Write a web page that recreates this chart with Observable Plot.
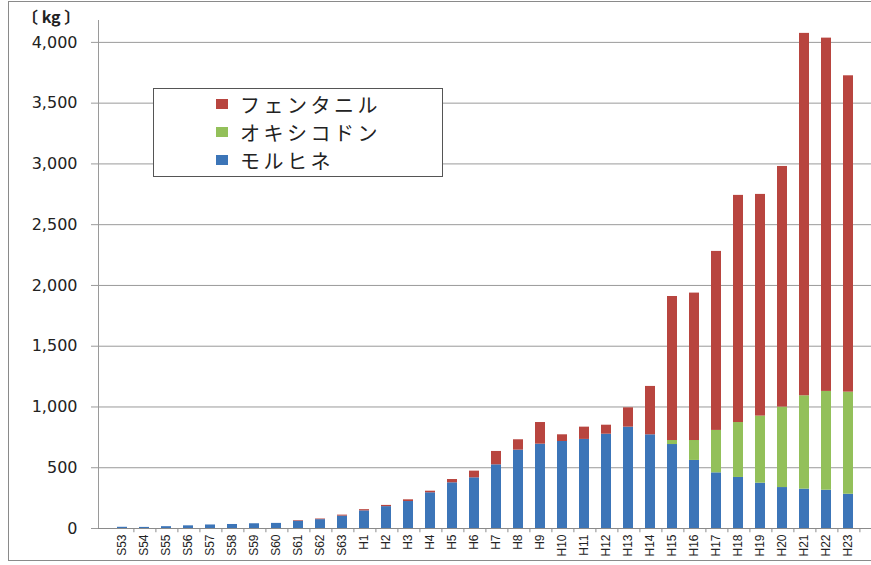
<!DOCTYPE html>
<html>
<head>
<meta charset="utf-8">
<script src="https://cdn.jsdelivr.net/npm/d3@7"></script>
<script src="https://cdn.jsdelivr.net/npm/@observablehq/plot@0.6"></script>
<style>
  html, body { margin: 0; padding: 0; background: #fff; }
  #wrap { position: relative; width: 871px; height: 565px; overflow: hidden; }
  #frame { position: absolute; left: 8px; top: 1px; width: 900px; height: 560px; border: 1px solid #8a8a8a; box-sizing: border-box; }
  #chart { position: absolute; left: 0; top: 0; }
  #unit { position: absolute; left: 22px; top: 4px; font-family: "Noto Sans CJK JP", sans-serif; font-weight: bold; font-size: 16px; color: #222; letter-spacing: 0px; white-space: pre; }
  #legend { position: absolute; left: 153px; top: 88px; width: 290px; height: 89px; box-sizing: border-box; border: 1.5px solid #555; background: #fff; }
  .item { position: absolute; left: 62px; height: 24px; display: flex; align-items: center; font-family: "Noto Sans CJK JP", sans-serif; font-size: 20px; letter-spacing: 3.5px; color: #222; }
  .sw { width: 12px; height: 10px; margin-right: 12px; }
</style>
</head>
<body>
<div id="wrap">
  <div id="frame"></div>
  <div id="chart"></div>
  <div id="unit">〔 kg 〕</div>
  <div id="legend"></div>
</div>
<script>
const years = ["S53","S54","S55","S56","S57","S58","S59","S60","S61","S62","S63",
  "H1","H2","H3","H4","H5","H6","H7","H8","H9","H10","H11","H12","H13","H14","H15",
  "H16","H17","H18","H19","H20","H21","H22","H23"];
const seriesNames = ["モルヒネ", "オキシコドン", "フェンタニル"];
const seriesColors = ["#3c75b8", "#93c05a", "#b8453f"];
const morphine = [10, 9, 15, 22, 29, 33, 39, 42, 60, 73, 102,
  145, 180, 222, 294, 376, 417, 524, 645, 694, 716, 733, 776, 834, 771, 691,
  560, 458, 420, 373, 337, 324, 315, 282];
const oxycodone = [0, 0, 0, 0, 0, 0, 0, 0, 0, 0, 0,
  0, 0, 0, 0, 0, 0, 0, 0, 0, 0, 0, 0, 0, 0, 33,
  164, 349, 452, 552, 662, 768, 813, 840];
const fentanyl = [0, 0, 0, 0, 0, 0, 0, 0, 5, 5, 8,
  10, 10, 14, 13, 27, 55, 110, 85, 178, 55, 101, 74, 159, 398, 1185,
  1213, 1473, 1869, 1824, 1980, 2982, 2907, 2603];
const yTicks = [0, 500, 1000, 1500, 2000, 2500, 3000, 3500, 4000];

const seriesValues = [morphine, oxycodone, fentanyl];
const data = [];
years.forEach((yr, i) => {
  seriesNames.forEach((s, k) => data.push({year: yr, drug: s, value: seriesValues[k][i]}));
});

const chart = Plot.plot({
  width: 871,
  height: 565,
  marginLeft: 98,
  marginRight: 0,
  marginTop: 20,
  marginBottom: 37,
  style: {fontFamily: "DejaVu Sans, sans-serif", color: "#222", background: "transparent"},
  x: {domain: years, paddingInner: 0.56, paddingOuter: 0.22, label: null},
  y: {domain: [0, 4180], label: null},
  color: {domain: seriesNames, range: seriesColors},
  marks: [
    Plot.gridY(yTicks, {stroke: "#9a9a9a", strokeOpacity: 1, strokeWidth: 1}),
    Plot.frame({anchor: "left", stroke: "#9a9a9a"}),
    Plot.barY(data, {x: "year", y: "value", fill: "drug"}),
    Plot.ruleY([0], {stroke: "#8a8a8a"}),
    Plot.axisY(yTicks, {tickFormat: d3.format(","), tickSize: 7, tickPadding: 14, stroke: "#9a9a9a", fontSize: 16, style: "letter-spacing:2px", fill: "#222"}),
    Plot.axisX({tickSize: 0, tickRotate: -90, tickPadding: 6, fontSize: 12, fontFamily: "Liberation Sans, sans-serif", fill: "#222"}),
    Plot.ruleX(years, {x: d => d, dx: 11.4, y1: 0, y2: -35, stroke: "#8a8a8a"})
  ]
});
document.getElementById("chart").appendChild(chart);

const legend = document.getElementById("legend");
const order = [2, 1, 0];
const tops = [3, 31, 59];
order.forEach((k, j) => {
  const it = document.createElement("div");
  it.className = "item";
  it.style.top = tops[j] + "px";
  const sw = document.createElement("span");
  sw.className = "sw";
  sw.style.background = seriesColors[k];
  const tx = document.createElement("span");
  tx.textContent = seriesNames[k];
  it.appendChild(sw);
  it.appendChild(tx);
  legend.appendChild(it);
});
</script>
</body>
</html>
